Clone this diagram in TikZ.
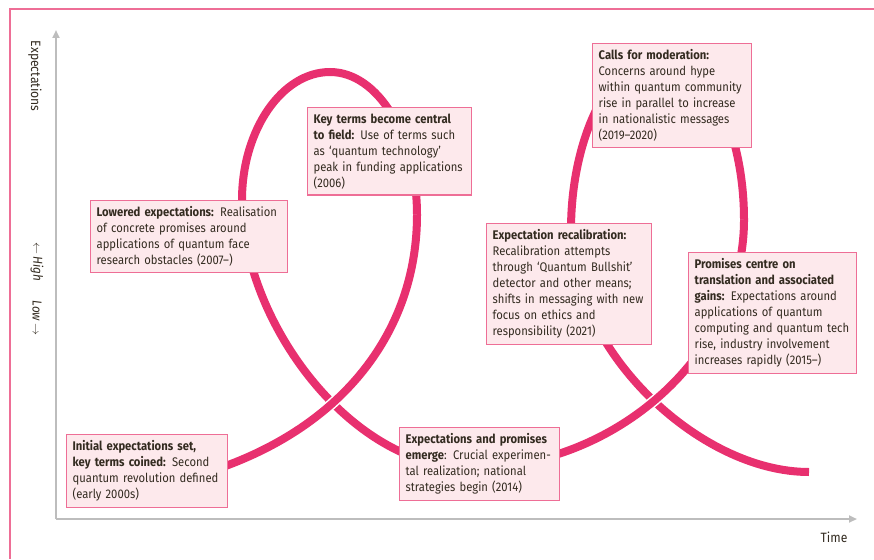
\documentclass[tikz,border=0pt]{standalone}
\usepackage{fontspec}
\setmainfont[FakeStretch=0.9]{Fira Sans}
\usetikzlibrary{arrows.meta}
\definecolor{curvepink}{HTML}{E8306F}
\definecolor{boxline}{HTML}{EE6E96}
\definecolor{boxfill}{HTML}{FDE9EC}
\definecolor{axisgray}{HTML}{BDBDBD}
\definecolor{textdark}{HTML}{332B20}

\begin{document}
\begin{tikzpicture}[x=1pt, y=-1pt,
  note box/.style={draw=boxline, fill=boxfill, line width=1.3pt, anchor=north west, align=left,
    inner xsep=6pt, inner ysep=6pt, text=textdark, font=\fontsize{12.5}{16}\selectfont},
  axis line/.style={draw=axisgray, line width=2.2pt, -{Triangle[length=8pt,width=7pt]}},
  axis label/.style={text=textdark, font=\fontsize{13.5}{15}\selectfont},
  hype curve/.style={draw=curvepink, line width=8pt},
  over curve/.style={preaction={draw=white, line width=11pt}, draw=curvepink, line width=8pt}]
\useasboundingbox (0,0) rectangle (874,559);
\draw[draw=boxline, line width=1.5pt] (874,9) -- (10,9) -- (10,559);

% axes
\coordinate (origin) at (56,519);
\coordinate (ytop)   at (56,30);
\coordinate (xend)   at (857,519);
\draw[axis line] (origin) -- (ytop);
\draw[axis line] (origin) -- (xend);
\node[axis label]            (time)   at (834,537) {Time};
\node[axis label, rotate=-90] (expect) at (35,76)   {Expectations};
\node[axis label, rotate=-90, font=\fontsize{13}{15}\selectfont\itshape] (high) at (37,262) {$\leftarrow$\,High};
\node[axis label, rotate=-90, font=\fontsize{13}{15}\selectfont\itshape] (low)  at (37,318) {Low\,$\rightarrow$};

% the hype curve
\coordinate (q0) at (220,468);
\coordinate (q1) at (417,215);
\coordinate (q2) at (330,72);
\coordinate (q3) at (242,200);
\coordinate (q4) at (470,468);
\coordinate (r1) at (744,220);
\coordinate (r2) at (660,55);
\coordinate (r3) at (571,230);
\coordinate (r4) at (809,472);
\draw[hype curve] (q1) .. controls (417,136) and (378,72) .. (q2)
  .. controls (282,72) and (242,130) .. (q3)
  .. controls (242,320) and (350,468) .. (q4);
\draw[hype curve] (r1) .. controls (744,129) and (706,55) .. (r2)
  .. controls (613,55) and (571,134) .. (r3)
  .. controls (571,350) and (699,472) .. (r4);
\draw[over curve] (q0) .. controls (350,422) and (417,325) .. (q1);
\draw[over curve] (q4) .. controls (620,468) and (744,350) .. (r1);

% stages
\node[note box, text width=149pt] (initial) at (66,434)
  {\textbf{Initial expectations set,}\\\textbf{key terms coined:} Second\\quantum revolution defined\\(early 2000s)};
\node[note box, text width=185pt] (lowered) at (90,200)
  {\textbf{Lowered expectations:} Realisation\\of concrete promises around\\applications of quantum face\\research obstacles (2007--)};
\node[note box, text width=152pt] (central) at (307,107)
  {\textbf{Key terms become central}\\\textbf{to field:} Use of terms such\\as `quantum technology'\\peak in funding applications\\(2006)};
\node[note box, text width=148pt] (emerge) at (399,427)
  {\textbf{Expectations and promises}\\\textbf{emerge}: Crucial experimen-\\tal realization; national\\strategies begin (2014)};
\node[note box, text width=156pt] (promises) at (688,252)
  {\textbf{Promises centre on}\\\textbf{translation and associated}\\\textbf{gains:} Expectations around\\applications of quantum\\computing and quantum tech\\rise, industry involvement\\increases rapidly (2015--)};
\node[note box, text width=153pt] (recalib) at (486,223)
  {\textbf{Expectation recalibration:}\\Recalibration attempts\\through `Quantum Bullshit'\\detector and other means;\\shifts in messaging with new\\focus on ethics and\\responsibility (2021)};
\node[note box, text width=147pt] (moderation) at (592,43)
  {\textbf{Calls for moderation:}\\Concerns around hype\\within quantum community\\rise in parallel to increase\\in nationalistic messages\\(2019--2020)};
\end{tikzpicture}
\end{document}
